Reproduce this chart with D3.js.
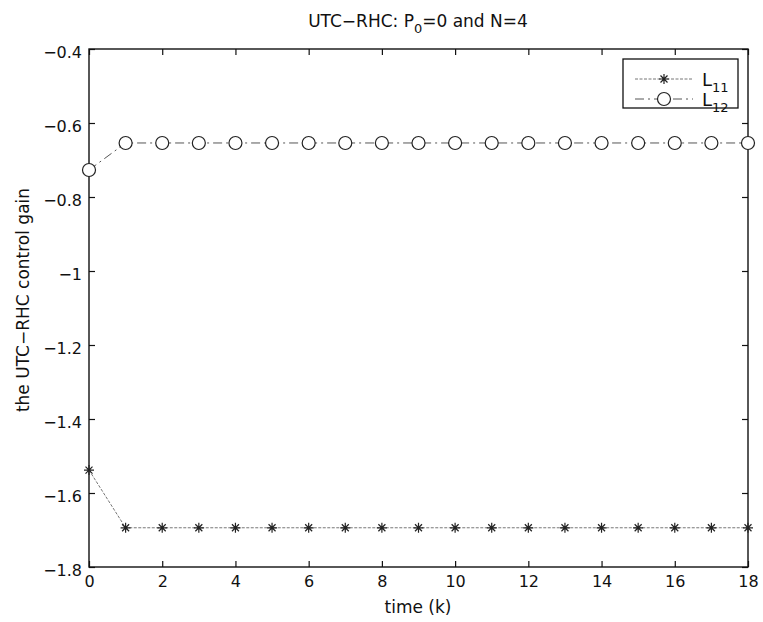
<!DOCTYPE html>
<html><head><meta charset="utf-8">
<script src="https://cdn.jsdelivr.net/npm/d3@7"></script>
<style>body{margin:0;background:#fff}text{font-family:"DejaVu Sans",sans-serif;fill:#111}</style>
</head><body><svg id="c" width="763" height="622"></svg>
<script>
const timeK = d3.range(0, 19);
const L11 = [-1.538, -1.694, -1.694, -1.694, -1.694, -1.694, -1.694, -1.694, -1.694, -1.694, -1.694, -1.694, -1.694, -1.694, -1.694, -1.694, -1.694, -1.694, -1.694];
const L12 = [-0.727, -0.654, -0.654, -0.654, -0.654, -0.654, -0.654, -0.654, -0.654, -0.654, -0.654, -0.654, -0.654, -0.654, -0.654, -0.654, -0.654, -0.654, -0.654];
const xTicks = [0, 2, 4, 6, 8, 10, 12, 14, 16, 18];
const yTicks = [-1.8, -1.6, -1.4, -1.2, -1, -0.8, -0.6, -0.4];

const svg = d3.select("#c");
const m = {l: 89, r: 748, t: 49, b: 567};
const x = d3.scaleLinear().domain([0, 18]).range([m.l, m.r]);
const y = d3.scaleLinear().domain([-1.8, -0.4]).range([m.b, m.t]);
const fmt = v => String(+v.toFixed(1)).replace("-", "\u2212");
const FONT = "DejaVu Sans, sans-serif";
const FS = 16;

// box
svg.append("rect").attr("x", m.l).attr("y", m.t).attr("width", m.r - m.l).attr("height", m.b - m.t)
  .attr("fill", "none").attr("stroke", "#111").attr("stroke-width", 1.4);

const tl = 6;
const gx = svg.append("g").attr("transform", `translate(0,${m.b})`)
  .call(d3.axisBottom(x).tickValues(xTicks).tickSize(-tl).tickPadding(9).tickFormat(d => d));
const gxt = svg.append("g").attr("transform", `translate(0,${m.t})`)
  .call(d3.axisTop(x).tickValues(xTicks).tickSize(-tl).tickFormat(""));
const gy = svg.append("g").attr("transform", `translate(${m.l},0)`)
  .call(d3.axisLeft(y).tickValues(yTicks).tickSize(-tl).tickPadding(7).tickFormat(fmt));
const gyr = svg.append("g").attr("transform", `translate(${m.r},0)`)
  .call(d3.axisRight(y).tickValues(yTicks).tickSize(-tl).tickFormat(""));
[gx, gxt, gy, gyr].forEach(g => {
  g.select(".domain").remove();
  g.selectAll(".tick line").attr("stroke", "#111").attr("stroke-width", 1.2);
  g.selectAll("text").attr("font-size", FS).attr("font-family", FONT).attr("fill", "#111");
});
gy.selectAll("text").attr("dy", "0.55em");

// lines
const line = d3.line().x((d, i) => x(timeK[i])).y(d => y(d));
svg.append("path").datum(L11).attr("d", line).attr("fill", "none")
  .attr("stroke", "#777").attr("stroke-width", 1).attr("stroke-dasharray", "3,1.5");
svg.append("path").datum(L12).attr("d", line).attr("fill", "none")
  .attr("stroke", "#555").attr("stroke-width", 1).attr("stroke-dasharray", "9,4,2,4");

function star(g, cx, cy) {
  const s = 5;
  g.append("path").attr("d", `M${cx - s},${cy}L${cx + s},${cy}M${cx},${cy - s}L${cx},${cy + s}M${cx - 3.5},${cy - 3.5}L${cx + 3.5},${cy + 3.5}M${cx - 3.5},${cy + 3.5}L${cx + 3.5},${cy - 3.5}`)
    .attr("stroke", "#222").attr("stroke-width", 1.2).attr("fill", "none");
}
const gs = svg.append("g");
L11.forEach((v, i) => star(gs, x(timeK[i]), y(v)));
svg.append("g").selectAll("circle").data(L12).join("circle")
  .attr("cx", (d, i) => x(timeK[i])).attr("cy", d => y(d)).attr("r", 6.5)
  .attr("fill", "#fff").attr("stroke", "#222").attr("stroke-width", 1.2);

// title
const title = svg.append("text").attr("x", 418).attr("y", 27).attr("text-anchor", "middle").attr("font-size", 17).attr("font-family", FONT);
title.append("tspan").text("UTC\u2212RHC: P");
title.append("tspan").attr("font-size", 13).attr("dy", 6).text("0");
title.append("tspan").attr("dy", -6).text("=0 and N=4");

// axis labels
svg.append("text").attr("x", 418).attr("y", 613).attr("text-anchor", "middle").attr("font-size", 17).attr("font-family", FONT).text("time (k)");
svg.append("text").attr("transform", "translate(29,300) rotate(-90)").attr("text-anchor", "middle").attr("font-size", 17).attr("font-family", FONT)
  .text("the UTC\u2212RHC control gain");

// legend
const lg = svg.append("g");
lg.append("rect").attr("x", 623).attr("y", 59).attr("width", 115).attr("height", 49)
  .attr("fill", "#fff").attr("stroke", "#111").attr("stroke-width", 1.3);
const items = [{name: "11", y: 79, dash: "3,1.5", col: "#777", mk: "star"}, {name: "12", y: 99, dash: "9,4,2,4", col: "#555", mk: "circle"}];
items.forEach(it => {
  lg.append("line").attr("x1", 635).attr("x2", 693).attr("y1", it.y).attr("y2", it.y)
    .attr("stroke", it.col).attr("stroke-width", 1).attr("stroke-dasharray", it.dash);
  if (it.mk === "star") star(lg, 664, it.y);
  else lg.append("circle").attr("cx", 664).attr("cy", it.y).attr("r", 6.5).attr("fill", "#fff").attr("stroke", "#222").attr("stroke-width", 1.2);
  const t = lg.append("text").attr("x", 702).attr("y", it.y + 7).attr("font-size", 18).attr("font-family", FONT);
  t.append("tspan").text("L");
  t.append("tspan").attr("font-size", 13).attr("dy", 6).text(it.name);
});
</script></body></html>
